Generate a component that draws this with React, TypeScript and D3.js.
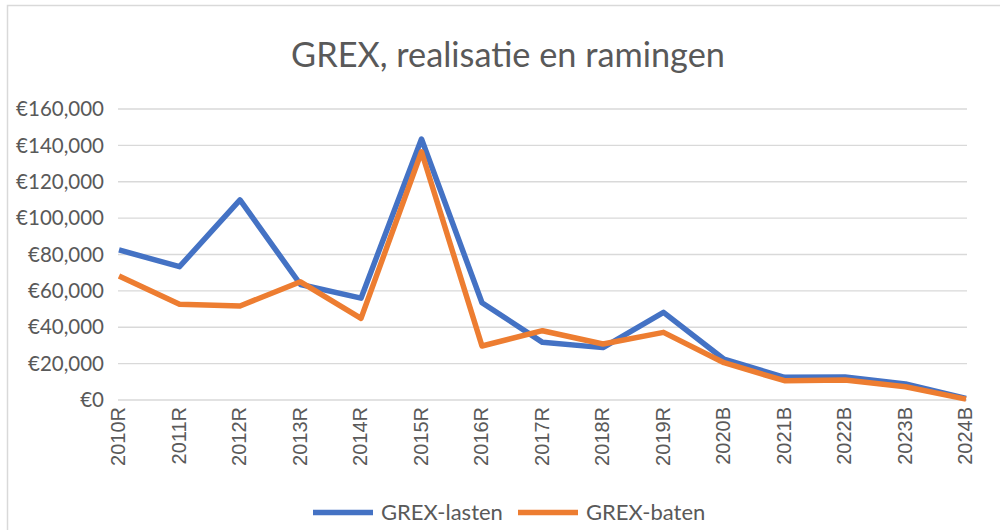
import React from "react";
import * as d3 from "d3";

const categories = ["2010R","2011R","2012R","2013R","2014R","2015R","2016R","2017R","2018R","2019R","2020B","2021B","2022B","2023B","2024B"];
const lasten = [82500, 73300, 110000, 63500, 56000, 143500, 53500, 31700, 28800, 48200, 22400, 12500, 12600, 8800, 900];
const baten = [68200, 52600, 51700, 65000, 44900, 136500, 29700, 38100, 30800, 37200, 20500, 10600, 11000, 7300, 500];
const yTicks = [0, 20000, 40000, 60000, 80000, 100000, 120000, 140000, 160000];
const seriesNames = ["GREX-lasten", "GREX-baten"];
const seriesColors = ["#4472C4", "#ED7D31"];

const W = 1000, H = 530;

export default function App() {
  const x = d3.scalePoint<string>().domain(categories).range([119, 966]);
  const y = d3.scaleLinear().domain([0, 160000]).range([400, 109]);
  const line = d3.line<number>().x((_, i) => x(categories[i]) as number).y(d => y(d));
  const fmt = (v: number) => "€" + d3.format(",")(v);
  const series = [lasten, baten];
  const legendX = [313, 518];
  return (
    <svg width={W} height={H} style={{ position: "absolute", left: 0, top: 0, background: "#fff" }}>
      <rect x={0} y={0} width={W} height={H} fill="#fff" />
      <rect x={7.5} y={5.5} width={1200} height={800} fill="none" stroke="#d9d9d9" strokeWidth={1.5} />
      <text x={508} y={67} textAnchor="middle" fontFamily="Lato" fontSize={34.3} fill="#595959">GREX, realisatie en ramingen</text>
      {yTicks.map(t => (
        <g key={t}>
          <line x1={118} x2={967} y1={y(t)} y2={y(t)} stroke="#d9d9d9" strokeWidth={1.3} />
          <text x={104} y={y(t)} dy="0.35em" textAnchor="end" fontFamily="Lato" fontSize={20.5} fill="#595959">{fmt(t)}</text>
        </g>
      ))}
      {categories.map(c => (
        <text key={c} transform={`translate(${(x(c) as number) + 6},407) rotate(-90)`} textAnchor="end" fontFamily="Liberation Sans" fontSize={20} fill="#595959">{c}</text>
      ))}
      {series.map((s, i) => (
        <path key={i} d={line(s) || ""} fill="none" stroke={seriesColors[i]} strokeWidth={5.5} strokeLinejoin="round" />
      ))}
      {seriesNames.map((n, i) => (
        <g key={n}>
          <line x1={legendX[i]} x2={legendX[i] + 60} y1={512.5} y2={512.5} stroke={seriesColors[i]} strokeWidth={5.5} />
          <text x={legendX[i] + 68} y={519.5} fontFamily="Lato" fontSize={22} fill="#595959">{n}</text>
        </g>
      ))}
    </svg>
  );
}
